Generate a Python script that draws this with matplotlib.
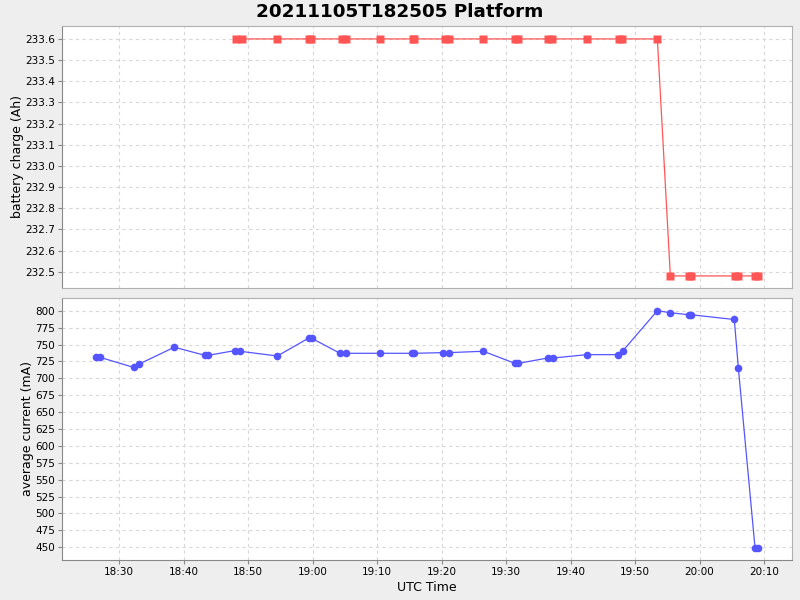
import numpy as np
import pandas as pd
import matplotlib
matplotlib.use('Agg')
import matplotlib.pyplot as plt
import matplotlib.dates as mdates
from matplotlib.ticker import MultipleLocator, FormatStrFormatter

day = "2021-11-05 "

# battery charge samples (Ah)
charge_times = ["18:48:06", "18:48:59", "18:54:28", "18:59:25", "18:59:44", "19:04:33",
                "19:05:10", "19:10:26", "19:15:34", "19:15:47", "19:20:31", "19:21:08",
                "19:26:29", "19:31:23", "19:31:50", "19:36:30", "19:37:07", "19:42:28",
                "19:47:31", "19:47:59", "19:53:27", "19:55:28", "19:58:22", "19:58:41",
                "20:05:32", "20:06:01", "20:08:36", "20:09:04"]
charge_vals = [233.6] * 21 + [232.48] * 7

# average current samples (mA)
current_times = ["18:26:23", "18:27:01", "18:32:17", "18:33:04", "18:38:32", "18:43:17",
                 "18:43:46", "18:47:57", "18:48:43", "18:54:31", "18:59:28", "18:59:53",
                 "19:04:14", "19:05:10", "19:10:26", "19:15:24", "19:15:47", "19:20:17",
                 "19:21:08", "19:26:28", "19:31:23", "19:31:50", "19:36:25", "19:37:16",
                 "19:42:30", "19:47:24", "19:48:08", "19:53:27", "19:55:28", "19:58:22",
                 "19:58:41", "20:05:23", "20:06:01", "20:08:36", "20:09:04"]
current_vals = [732, 731, 716, 721, 746, 734, 734, 741, 740, 733, 760, 759,
                737, 737, 737, 737, 737, 738, 738, 740, 722, 722, 730, 730,
                735, 735, 741, 800, 797, 794, 794, 787, 715, 449, 449]

t_charge = pd.to_datetime([day + t for t in charge_times])
t_current = pd.to_datetime([day + t for t in current_times])

bg = '#EEEEEE'
grid_col = '#D8D8D8'

fig = plt.figure(figsize=(8, 6), dpi=100, facecolor=bg)
ax1 = fig.add_axes([62/800, 1 - 288/600, 730/800, 262/600])
ax2 = fig.add_axes([62/800, 1 - 560/600, 730/800, 262/600], sharex=ax1)

ax1.plot(t_charge, charge_vals, color='#FF5555', lw=0.9, marker='s', ms=5.8, mec='none')
ax2.plot(t_current, current_vals, color='#5555FF', lw=0.9, marker='o', ms=5.5, mec='none')

ax1.set_ylim(232.423, 233.661)
ax2.set_ylim(431.2, 818.8)
ax1.set_xlim(pd.Timestamp(day + "18:21:07"), pd.Timestamp(day + "20:14:20"))

ax1.yaxis.set_major_locator(MultipleLocator(0.1))
ax1.yaxis.set_major_formatter(FormatStrFormatter('%.1f'))
ax2.yaxis.set_major_locator(MultipleLocator(25))
ax2.xaxis.set_major_locator(mdates.MinuteLocator(byminute=range(0, 60, 10)))
ax2.xaxis.set_major_formatter(mdates.DateFormatter('%H:%M'))

for ax in (ax1, ax2):
    ax.set_facecolor('white')
    ax.grid(True, color=grid_col, ls=(0, (3, 3)), lw=0.8)
    for s in ax.spines.values():
        s.set_color('#B0B0B0')
    ax.spines['left'].set_color('#888888')
    ax.tick_params(axis='y', length=3, color='#888888', labelsize=7.5, pad=2)
    ax.tick_params(axis='x', length=3, color='#888888', labelsize=7.5, pad=2)

ax1.tick_params(axis='x', length=0, labelbottom=False)
ax2.spines['bottom'].set_color('#888888')

ax1.set_ylabel("battery charge (Ah)", fontsize=9, labelpad=0.5)
ax2.set_ylabel("average current (mA)", fontsize=9, labelpad=0.5)
ax2.set_xlabel("UTC Time", fontsize=9, labelpad=3)

fig.text(0.5, 1 - 12/600, "20211105T182505 Platform", ha='center', va='center',
         fontsize=13.2, fontweight='bold')

fig.savefig("out.png", dpi=100, facecolor=bg)
